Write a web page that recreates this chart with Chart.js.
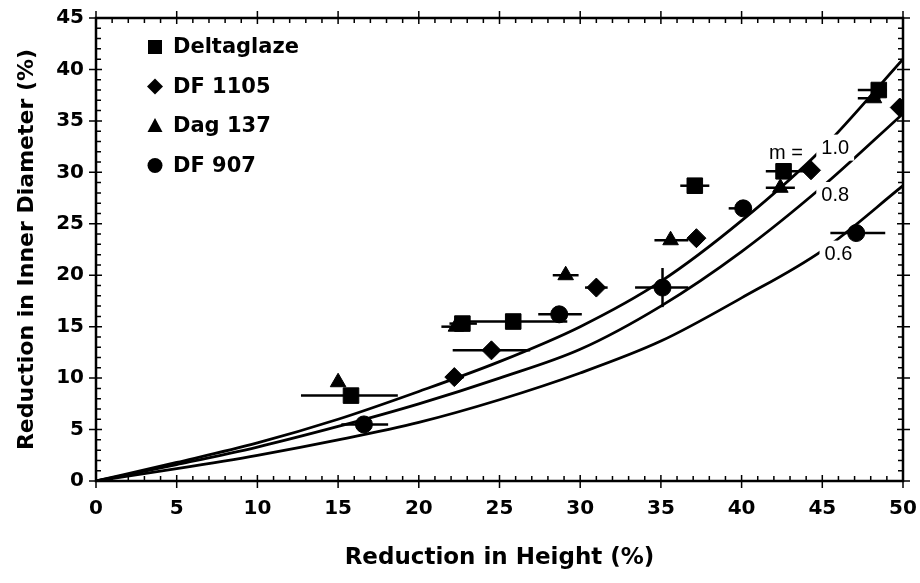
<!DOCTYPE html>
<html><head><meta charset="utf-8">
<script src="https://cdn.jsdelivr.net/npm/chart.js@4.4.1/dist/chart.umd.min.js"></script>
<style>html,body{margin:0;padding:0;background:#fff;}canvas{display:block}</style>
</head><body>
<canvas id="c" width="920" height="583"></canvas>
<script>
// ---- data ----
const xTickValues = [0,5,10,15,20,25,30,35,40,45,50];
const yTickValues = [0,5,10,15,20,25,30,35,40,45];
const seriesNames = ['Deltaglaze','DF 1105','Dag 137','DF 907'];

const deltaX    = [15.8, 22.7, 25.85, 37.1, 42.6, 48.5];
const deltaY    = [8.3, 15.3, 15.5, 28.7, 30.1, 38.0];
const deltaXMin = [12.7, 21.9, 22.5, 36.2, 41.5, 47.2];
const deltaXMax = [18.7, 23.6, 29.2, 38.0, 44.0, 49.0];

const df1105X    = [22.2, 24.5, 31.0, 37.2, 44.3, 49.8];
const df1105Y    = [10.1, 12.7, 18.8, 23.6, 30.2, 36.3];
const df1105XMin = [21.7, 22.1, 30.3, 37.2, 44.3, 49.8];
const df1105XMax = [22.8, 26.9, 31.7, 37.2, 44.3, 49.8];

const dagX    = [15.0, 22.3, 29.1, 35.6, 42.4, 48.2];
const dagY    = [9.6, 15.0, 20.0, 23.4, 28.5, 37.2];
const dagXMin = [15.0, 21.4, 28.3, 34.6, 41.5, 47.2];
const dagXMax = [15.0, 23.0, 29.9, 36.7, 43.3, 48.6];

const df907X    = [16.6, 28.7, 35.1, 40.1, 47.1];
const df907Y    = [5.5, 16.2, 18.8, 26.5, 24.1];
const df907XMin = [15.2, 27.4, 33.4, 39.2, 45.5];
const df907XMax = [18.1, 30.1, 36.7, 40.6, 48.9];
const df907YMin = [5.5, 16.2, 16.9, 26.5, 24.1];
const df907YMax = [5.5, 16.2, 20.7, 26.5, 24.1];

const curveX   = [0, 5, 10, 15, 20, 25, 30, 35, 40, 45, 50];
const curveM10 = [0, 1.8, 3.7, 6.0, 8.7, 11.6, 15.0, 19.4, 25.3, 32.3, 41.0];
const curveM08 = [0, 1.6, 3.3, 5.3, 7.5, 10.0, 12.8, 17.0, 22.3, 28.6, 35.7];
const curveM06 = [0, 1.2, 2.5, 4.0, 5.7, 7.9, 10.5, 13.6, 17.8, 22.4, 28.7];
const curveLabels = ['m =', '1.0', '0.8', '0.6'];

// ---- build ----
const pts = (xs, ys) => xs.map((x, i) => ({x, y: ys[i]}));
const errSets = [
  {x: deltaX, y: deltaY, xmin: deltaXMin, xmax: deltaXMax},
  {x: df1105X, y: df1105Y, xmin: df1105XMin, xmax: df1105XMax},
  {x: dagX, y: dagY, xmin: dagXMin, xmax: dagXMax},
  {x: df907X, y: df907Y, xmin: df907XMin, xmax: df907XMax, ymin: df907YMin, ymax: df907YMax}
];
const styles = ['rect','rectRot','triangle','circle'];
const radii = [11, 9.5, 9, 8.5];

const labelSpots = [
  {x: 42.75, y: 31.9, box: false},
  {x: 45.8, y: 32.4, box: true},
  {x: 45.8, y: 27.8, box: true},
  {x: 46.0, y: 22.1, box: true}
];

const TF = '"DejaVu Sans", sans-serif';

const decor = {
  id: 'decor',
  afterDatasetDraw(chart, args) {
    if (args.index !== 4) return;
    const ctx = chart.ctx, xs = chart.scales.x, ys = chart.scales.y;
    ctx.save();
    ctx.font = '20px "Liberation Sans", Arial, sans-serif';
    ctx.textAlign = 'center'; ctx.textBaseline = 'middle';
    labelSpots.forEach((s, i) => {
      const px = xs.getPixelForValue(s.x), py = ys.getPixelForValue(s.y);
      const w = ctx.measureText(curveLabels[i]).width;
      if (s.box) { ctx.fillStyle = '#fff'; ctx.fillRect(px - w/2 - 5, py - 13, w + 10, 26); }
      ctx.fillStyle = '#000';
      ctx.fillText(curveLabels[i], px, py + 1);
    });
    ctx.strokeStyle = '#000'; ctx.lineWidth = 2.5; ctx.lineCap = 'butt';
    errSets.forEach(s => {
      s.x.forEach((xv, i) => {
        const py = ys.getPixelForValue(s.y[i]);
        if (s.xmax[i] > s.xmin[i]) {
          ctx.beginPath();
          ctx.moveTo(xs.getPixelForValue(s.xmin[i]), py);
          ctx.lineTo(xs.getPixelForValue(s.xmax[i]), py);
          ctx.stroke();
        }
        if (s.ymin && s.ymax[i] > s.ymin[i]) {
          const px = xs.getPixelForValue(xv);
          ctx.beginPath();
          ctx.moveTo(px, ys.getPixelForValue(s.ymin[i]));
          ctx.lineTo(px, ys.getPixelForValue(s.ymax[i]));
          ctx.stroke();
        }
      });
    });
    ctx.restore();
  },
  afterDraw(chart) {
    const ctx = chart.ctx, a = chart.chartArea, xs = chart.scales.x, ys = chart.scales.y;
    ctx.save();
    ctx.strokeStyle = '#000';
    ctx.lineWidth = 2.5;
    ctx.strokeRect(a.left, a.top, a.right - a.left, a.bottom - a.top);
    ctx.lineWidth = 1.5;
    ctx.beginPath();
    for (let v = 0; v <= 50; v++) {
      const px = xs.getPixelForValue(v);
      if (v % 5 === 0) {
        ctx.moveTo(px, a.bottom - 6); ctx.lineTo(px, a.bottom + 7);
        ctx.moveTo(px, a.top - 7); ctx.lineTo(px, a.top + 6);
      } else {
        ctx.moveTo(px, a.bottom); ctx.lineTo(px, a.bottom - 5);
        ctx.moveTo(px, a.top); ctx.lineTo(px, a.top + 5);
      }
    }
    for (let v = 0; v <= 45; v++) {
      const py = ys.getPixelForValue(v);
      if (v % 5 === 0) {
        ctx.moveTo(a.left - 7, py); ctx.lineTo(a.left + 6, py);
        ctx.moveTo(a.right - 6, py); ctx.lineTo(a.right + 7, py);
      } else {
        ctx.moveTo(a.left, py); ctx.lineTo(a.left + 5, py);
        ctx.moveTo(a.right, py); ctx.lineTo(a.right - 5, py);
      }
    }
    ctx.stroke();
    ctx.font = 'bold 21px ' + TF;
    ctx.textAlign = 'left'; ctx.textBaseline = 'middle';
    const lx = 155, ly0 = 47, step = 39.5;
    seriesNames.forEach((name, i) => {
      const cy = ly0 + i * step;
      ctx.fillStyle = '#000';
      ctx.beginPath();
      if (i === 0) { ctx.rect(lx - 7, cy - 7, 14, 14); }
      else if (i === 1) { ctx.moveTo(lx, cy - 8); ctx.lineTo(lx + 8, cy); ctx.lineTo(lx, cy + 8); ctx.lineTo(lx - 8, cy); ctx.closePath(); }
      else if (i === 2) { ctx.moveTo(lx, cy - 8); ctx.lineTo(lx + 7.5, cy + 6); ctx.lineTo(lx - 7.5, cy + 6); ctx.closePath(); }
      else { ctx.arc(lx, cy, 7.5, 0, Math.PI * 2); }
      ctx.fill();
      ctx.fillText(name, lx + 18, cy + 1);
    });
    ctx.restore();
  }
};

const datasets = [];
[[deltaX, deltaY],[df1105X, df1105Y],[dagX, dagY],[df907X, df907Y]].forEach((d, i) => {
  datasets.push({
    type: 'scatter', label: seriesNames[i], data: pts(d[0], d[1]),
    pointStyle: styles[i], pointRadius: radii[i], pointHoverRadius: radii[i],
    backgroundColor: '#000', borderColor: '#000', borderWidth: 1
  });
});
[curveM10, curveM08, curveM06].forEach((c, i) => {
  datasets.push({
    type: 'line', label: 'm' + i, data: pts(curveX, c), showLine: true,
    borderColor: '#000', borderWidth: 2.8, pointRadius: 0, fill: false,
    cubicInterpolationMode: 'monotone'
  });
});

new Chart(document.getElementById('c'), {
  type: 'scatter',
  data: {datasets},
  options: {
    responsive: false, animation: false, devicePixelRatio: 1,
    layout: {padding: {left: 0, right: 17, top: 18, bottom: 0}},
    plugins: {legend: {display: false}, tooltip: {enabled: false}},
    scales: {
      x: {
        type: 'linear', min: 0, max: 50,
        afterBuildTicks: s => { s.ticks = xTickValues.map(v => ({value: v})); },
        afterFit: s => { s.height = 102; s.paddingLeft = 0; s.paddingRight = 0; },
        grid: {display: false, drawTicks: false}, border: {display: false},
        ticks: {font: {family: TF, size: 20, weight: 'bold'}, color: '#000', padding: 16, maxRotation: 0},
        title: {display: true, text: 'Reduction in Height (%)', color: '#000',
                font: {family: TF, size: 23, weight: 'bold'}, padding: {top: 0, bottom: 11}}
      },
      y: {
        type: 'linear', min: 0, max: 45,
        afterBuildTicks: s => { s.ticks = yTickValues.map(v => ({value: v})); },
        afterFit: s => { s.width = 96; s.paddingTop = 0; s.paddingBottom = 0; },
        grid: {display: false, drawTicks: false}, border: {display: false},
        ticks: {font: {family: TF, size: 20, weight: 'bold'}, color: '#000', padding: 12},
        title: {display: true, text: 'Reduction in Inner Diameter (%)', color: '#000',
                font: {family: TF, size: 22, weight: 'bold'}, padding: {top: 14, bottom: 0}}
      }
    }
  },
  plugins: [decor]
});
</script>
</body></html>
